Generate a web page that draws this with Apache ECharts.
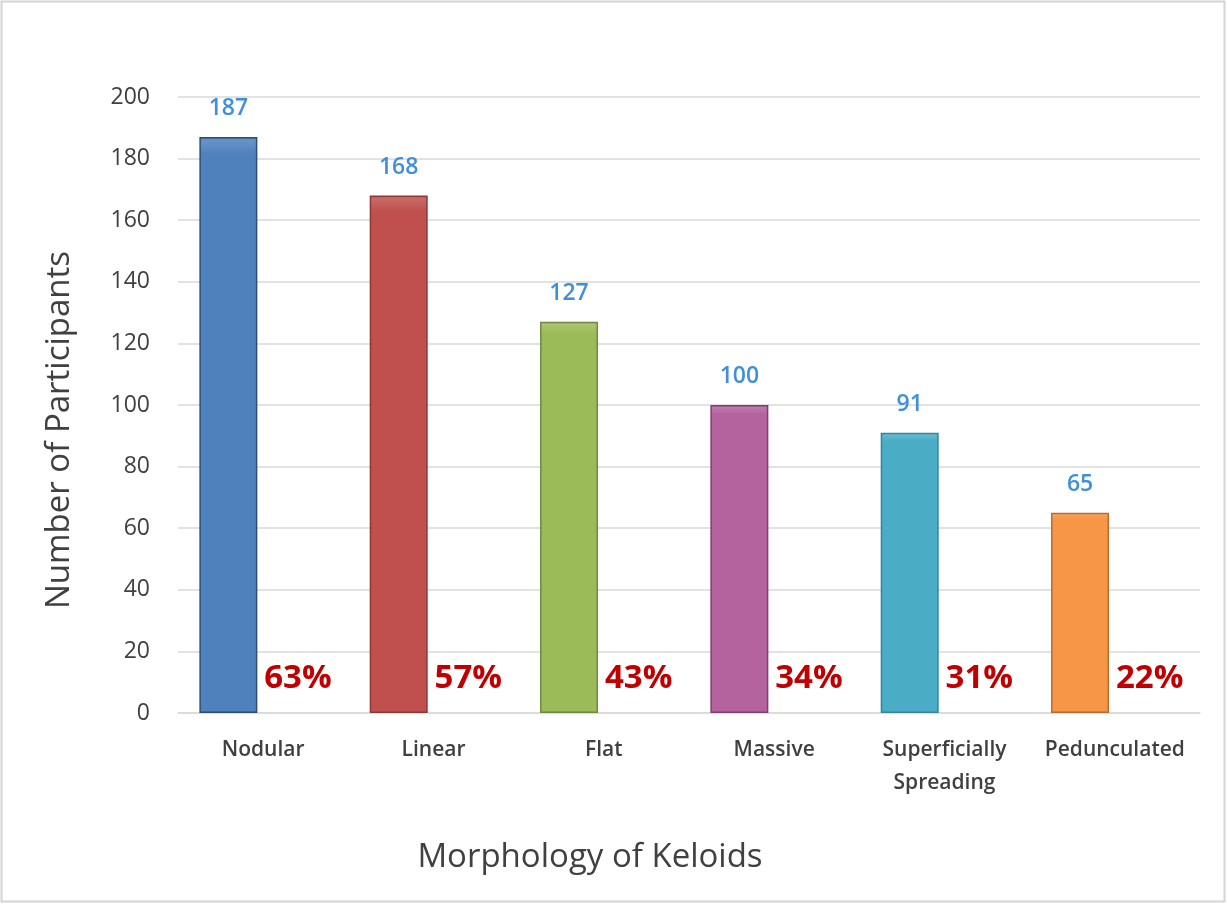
<!DOCTYPE html>
<html>
<head>
<meta charset="utf-8">
<script src="https://cdn.jsdelivr.net/npm/echarts@6/dist/echarts.min.js"></script>
<style>
html,body{margin:0;padding:0;background:#fff;}
#chart{width:1227px;height:904px;}
</style>
</head>
<body>
<div id="chart"></div>
<script>
var categories = ['Nodular', 'Linear', 'Flat', 'Massive', 'Superficially\nSpreading', 'Pedunculated'];
var participants = [187, 168, 127, 100, 91, 65];
var percentages = ['63%', '57%', '43%', '34%', '31%', '22%'];
var barColors = ['#4f81bd', '#c0504d', '#9bbb59', '#b5639f', '#4bacc6', '#f79646'];
var borderColors = ['#2c4d75', '#8c3836', '#71893f', '#7d3f6e', '#31859c', '#b66d31'];
var yTicks = [0, 20, 40, 60, 80, 100, 120, 140, 160, 180, 200];

var chart = echarts.init(document.getElementById('chart'));
var font = 'Open Sans, Noto Sans, sans-serif';

chart.setOption({
  animation: false,
  backgroundColor: '#ffffff',
  grid: {left: 178, right: 27, top: 97, bottom: 191},
  graphic: [
    {type: 'rect', shape: {x: 1.5, y: 1.5, width: 1223, height: 900},
     style: {fill: 'none', stroke: '#d4d4d4', lineWidth: 2}, z: -1},
    {type: 'text', rotation: Math.PI / 2,
     style: {text: 'Number of Participants', font: '33px ' + font, fill: '#404040',
       textAlign: 'center', textVerticalAlign: 'middle'},
     x: 60, y: 430},
    {type: 'text', x: 590, y: 858,
     style: {text: 'Morphology of Keloids', font: '33px ' + font, fill: '#404040',
       textAlign: 'center', textVerticalAlign: 'middle'}}
  ],
  xAxis: {
    type: 'category',
    data: categories,
    axisLine: {show: true, lineStyle: {color: '#d9d9d9', width: 1.5}},
    axisTick: {show: false},
    axisLabel: {color: '#404040', fontSize: 21, fontWeight: 600, fontFamily: font,
      margin: 21, lineHeight: 33, interval: 0, verticalAlign: 'top'}
  },
  yAxis: {
    type: 'value', min: 0, max: 200, interval: 20,
    axisLine: {show: false}, axisTick: {show: false},
    splitLine: {lineStyle: {color: '#d9d9d9', width: 1.5}},
    axisLabel: {color: '#404040', fontSize: 23, fontFamily: font, margin: 28,
      formatter: function (v) { return yTicks.indexOf(v) >= 0 ? String(v) : ''; }}
  },
  series: [
    {
      type: 'bar',
      barWidth: 58,
      barGap: '20%',
      data: participants.map(function (v, i) {
        return {
          value: v,
          itemStyle: {
            color: {
              type: 'linear', x: 0, y: 0, x2: 0, y2: 1,
              colorStops: [
                {offset: 0, color: barColors[i]},
                {offset: 0.006, color: echarts.color.lift(barColors[i], 0.15)},
                {offset: 0.03, color: barColors[i]},
                {offset: 1, color: barColors[i]}
              ]
            },
            borderColor: borderColors[i], borderWidth: 1.5
          }
        };
      }),
      label: {show: true, position: 'top', distance: 17, color: '#3f8fdb',
        fontSize: 23, fontWeight: 600, fontFamily: font}
    },
    {
      type: 'bar',
      barWidth: 58,
      data: participants.map(function () { return 0; }),
      itemStyle: {color: 'transparent'},
      label: {
        show: true, position: 'top', distance: 15,
        formatter: function (p) { return percentages[p.dataIndex]; },
        color: '#c00000', fontSize: 33, fontWeight: 'bold', fontFamily: font,
        backgroundColor: '#ffffff', padding: [3, 4, 3, 4]
      }
    }
  ]
});
</script>
</body>
</html>
